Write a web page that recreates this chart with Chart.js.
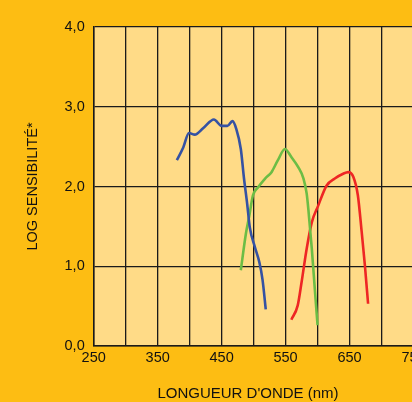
<!DOCTYPE html>
<html>
<head>
<meta charset="utf-8">
<script src="https://cdn.jsdelivr.net/npm/chart.js@4"></script>
<style>
html,body{margin:0;padding:0;background:#FDBD13;overflow:hidden;width:412px;height:402px;}
canvas{display:block;}
</style>
</head>
<body>
<canvas id="c" width="440" height="402"></canvas>
<script>
// Data
const xTickLabels = [250, 350, 450, 550, 650, 750];
const yTickLabels = ['0,0', '1,0', '2,0', '3,0', '4,0'];
const xTitle = "LONGUEUR D'ONDE (nm)";
const yTitle = "LOG SENSIBILITÉ*";

const blueX = [380, 390, 399, 408, 421, 438, 450, 459, 467, 473, 480, 485, 490, 494, 502, 509, 514, 519];
const blueY = [2.33, 2.49, 2.67, 2.65, 2.73, 2.84, 2.76, 2.76, 2.82, 2.72, 2.47, 2.10, 1.78, 1.49, 1.24, 1.05, 0.83, 0.46];

const greenX = [480, 488, 493, 499, 507, 518, 528, 538, 549, 559, 570, 578, 583, 586, 591, 596, 600];
const greenY = [0.95, 1.41, 1.62, 1.89, 1.99, 2.10, 2.18, 2.33, 2.47, 2.37, 2.24, 2.10, 1.91, 1.68, 1.22, 0.68, 0.26];

const redX = [559, 569, 575, 583, 591, 601, 614, 627, 640, 648, 656, 663, 669, 674, 679];
const redY = [0.33, 0.51, 0.80, 1.22, 1.55, 1.76, 2.01, 2.10, 2.16, 2.18, 2.12, 1.89, 1.43, 1.01, 0.53];

const pts = (xs, ys) => xs.map((x, i) => ({x: x, y: ys[i]}));

const FONT = "'Liberation Sans', Arial, sans-serif";

const plotBg = {
  id: 'plotBg',
  beforeDraw(chart) {
    const {ctx, chartArea: a} = chart;
    ctx.save();
    ctx.fillStyle = '#FFDB87';
    ctx.fillRect(a.left, a.top, a.right - a.left, a.bottom - a.top);
    ctx.restore();
  },
  afterDraw(chart) {
    const ctx = chart.ctx;
    ctx.save();
    ctx.fillStyle = '#111';
    ctx.font = "15px " + FONT;
    ctx.textAlign = 'center';
    ctx.textBaseline = 'middle';
    ctx.fillText(xTitle, 248, 394);
    ctx.restore();
  }
};

const lineStyle = (color) => ({
  borderColor: color,
  borderWidth: 2.6,
  pointRadius: 0,
  fill: false,
  cubicInterpolationMode: 'monotone'
});

new Chart(document.getElementById('c'), {
  type: 'line',
  data: {
    datasets: [
      Object.assign({label: 'bleu', data: pts(blueX, blueY)}, lineStyle('#3552A3')),
      Object.assign({label: 'vert', data: pts(greenX, greenY)}, lineStyle('#6CBD45')),
      Object.assign({label: 'rouge', data: pts(redX, redY)}, lineStyle('#EE2624'))
    ]
  },
  options: {
    responsive: false,
    animation: false,
    devicePixelRatio: 1,
    layout: {padding: {left: 0, top: 27, right: 26.5, bottom: 0}},
    plugins: {legend: {display: false}, tooltip: {enabled: false}},
    scales: {
      x: {
        type: 'linear',
        min: 250, max: 750,
        afterFit(s) { s.height = 56; },
        afterBuildTicks(s) {
          const t = [];
          for (let v = 250; v <= 750; v += 50) t.push({value: v});
          s.ticks = t;
        },
        ticks: {
          autoSkip: false,
          maxRotation: 0,
          padding: 3,
          color: '#111',
          font: {family: FONT, size: 14.5},
          callback: (v) => xTickLabels.includes(v) ? String(v) : ''
        },
        grid: {color: '#1a1a1a', lineWidth: 1.3, drawTicks: false},
        border: {color: '#1a1a1a', width: 1.5},
        title: {display: false}
      },
      y: {
        min: 0, max: 4,
        afterFit(s) { s.width = 93.7; },
        ticks: {
          stepSize: 1,
          padding: 9,
          color: '#111',
          font: {family: FONT, size: 14.5},
          callback: (v) => yTickLabels[Math.round(v)]
        },
        grid: {color: '#1a1a1a', lineWidth: 1.3, drawTicks: false},
        border: {color: '#1a1a1a', width: 1.5},
        title: {
          display: true, text: yTitle, color: '#111',
          font: {family: FONT, size: 14.5},
          padding: {top: 24, bottom: 0}
        }
      }
    }
  },
  plugins: [plotBg]
});
</script>
</body>
</html>
